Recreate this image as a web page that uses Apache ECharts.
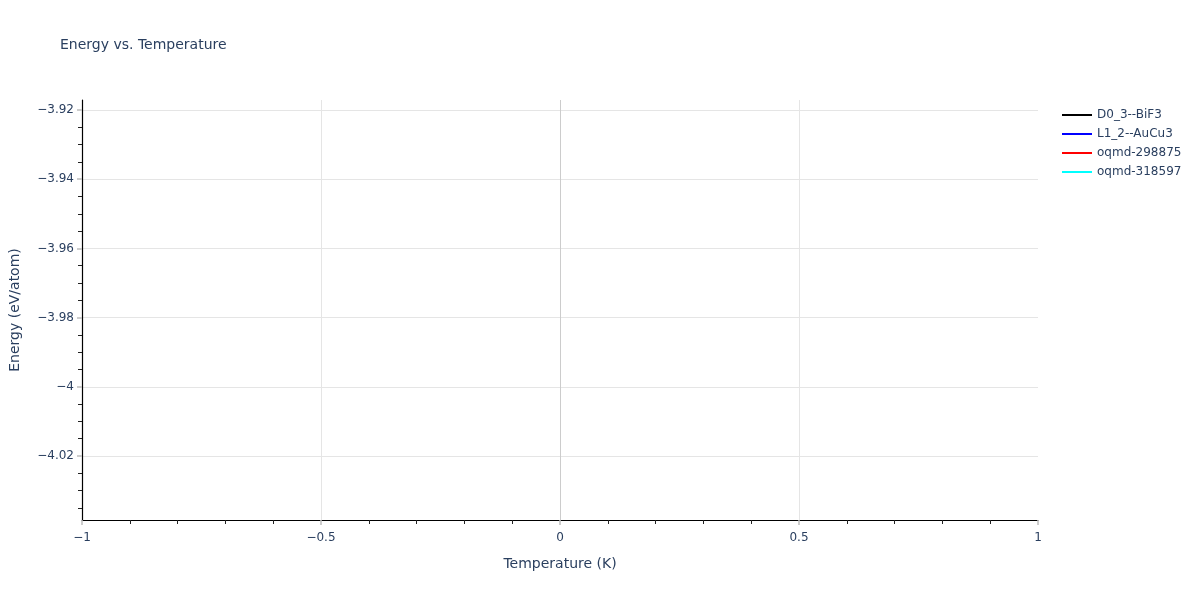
<!DOCTYPE html>
<html>
<head>
<meta charset="utf-8">
<script src="https://cdn.jsdelivr.net/npm/echarts@6/dist/echarts.min.js"></script>
<style>
html,body{margin:0;padding:0;background:#fff;}
#chart{width:1200px;height:600px;}
</style>
</head>
<body>
<div id="chart"></div>
<script>
// Data (all structures computed at T = 0 K only)
const seriesNames = ['D0_3--BiF3', 'L1_2--AuCu3', 'oqmd-298875', 'oqmd-318597'];
const seriesColors = ['#000000', '#0000ff', '#ff0000', '#00ffff'];
const temperatures = [0];
const energyD03 = [-4.0385];
const energyL12 = [-3.9171];
const energyOqmd298875 = [-3.985];
const energyOqmd318597 = [-3.95];
const xTicks = [-1, -0.5, 0, 0.5, 1];
const yTicks = [-4.02, -4.00, -3.98, -3.96, -3.94, -3.92];
const yMin = -4.0385, yMax = -3.9171;

const energies = [energyD03, energyL12, energyOqmd298875, energyOqmd318597];
const txt = '#2a3f5f';
const font = 'Verdana, "DejaVu Sans", sans-serif';
const fmt = v => {
  const r = Math.round(v * 1000) / 1000;
  return String(r).replace('-', '\u2212');
};

const chart = echarts.init(document.getElementById('chart'));
chart.setOption({
  animation: false,
  backgroundColor: '#ffffff',
  textStyle: {fontFamily: font},
  title: {
    text: 'Energy vs. Temperature',
    left: 55, top: 33,
    textStyle: {fontFamily: font, fontSize: 14, fontWeight: 'normal', color: txt}
  },
  legend: {
    orient: 'vertical',
    left: 1057, top: 103,
    itemWidth: 30, itemHeight: 2,
    itemGap: 5,
    icon: 'rect',
    textStyle: {fontFamily: font, fontSize: 12, color: txt, lineHeight: 14},
    data: seriesNames
  },
  grid: {left: 81, right: 162, top: 100, bottom: 80, containLabel: false},
  xAxis: {
    type: 'value',
    min: -1, max: 1, interval: 0.5,
    name: 'Temperature (K)',
    nameLocation: 'middle', nameGap: 37,
    nameTextStyle: {fontFamily: font, fontSize: 14, color: txt},
    axisLine: {show: true, onZero: false, lineStyle: {color: '#000', width: 1.2}},
    axisTick: {show: true, inside: false, length: 5, lineStyle: {color: '#bdbdbd', width: 1.5}},
    minorTick: {show: true, splitNumber: 5, length: 4, lineStyle: {color: '#222', width: 1}},
    axisLabel: {
      customValues: xTicks,
      margin: 12, fontFamily: font, fontSize: 12, color: txt, formatter: fmt
    },
    splitLine: {show: true, showMinLine: false, showMaxLine: false,
      lineStyle: {color: ['#e5e5e5', '#cccccc', '#e5e5e5'], width: 1}}
  },
  yAxis: {
    type: 'value',
    min: yMin, max: yMax, splitNumber: 6,
    name: 'Energy (eV/atom)',
    nameLocation: 'middle', nameGap: 60,
    nameTextStyle: {fontFamily: font, fontSize: 14, color: txt},
    axisLine: {show: true, onZero: false, lineStyle: {color: '#000', width: 1.2}},
    axisTick: {show: true, inside: false, length: 5, customValues: yTicks,
      lineStyle: {color: '#bdbdbd', width: 1.5}},
    minorTick: {show: true, splitNumber: 4, length: 4, lineStyle: {color: '#222', width: 1}},
    axisLabel: {
      customValues: yTicks,
      margin: 8, fontFamily: font, fontSize: 12, color: txt, formatter: fmt
    },
    splitLine: {show: true, lineStyle: {color: '#e5e5e5', width: 1}}
  },
  series: seriesNames.map((name, i) => ({
    name: name,
    type: 'line',
    showSymbol: false,
    symbol: 'none',
    color: seriesColors[i],
    lineStyle: {width: 2, color: seriesColors[i]},
    data: temperatures.map((t, k) => [t, energies[i][k]])
  }))
});
</script>
</body>
</html>
